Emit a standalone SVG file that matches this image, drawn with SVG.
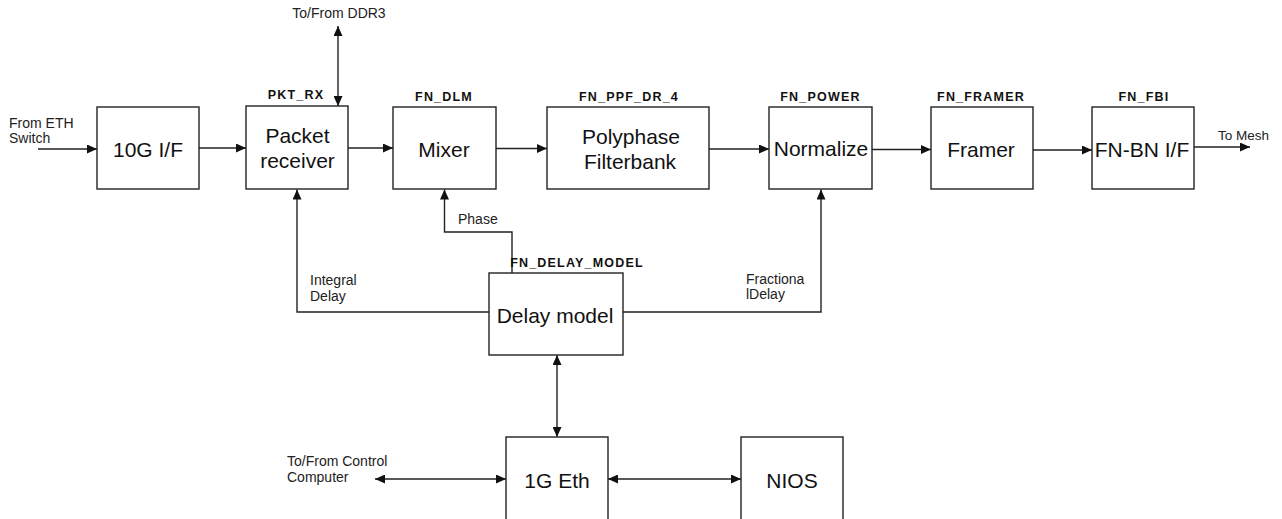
<svg xmlns="http://www.w3.org/2000/svg" width="1282" height="519" viewBox="0 0 1282 519">
<style>
.box{fill:#fff;stroke:#222;stroke-width:1.4}
.bt{font-family:"Liberation Sans",Arial,sans-serif;font-size:21px;fill:#111;text-anchor:middle}
.nm{font-family:"Liberation Sans",Arial,sans-serif;font-size:12.5px;font-weight:bold;letter-spacing:1.2px;fill:#111;text-anchor:middle}
.lb{font-family:"Liberation Sans",Arial,sans-serif;font-size:14px;fill:#222}
.ln{fill:none;stroke:#222;stroke-width:1.4}
</style>
<defs>
<marker id="ah" viewBox="0 0 10 9" refX="10" refY="4.5" markerWidth="10" markerHeight="9" markerUnits="userSpaceOnUse" orient="auto-start-reverse">
<path d="M0,0 L10,4.5 L0,9 Z" fill="#111"/>
</marker>
</defs>
<rect width="1282" height="519" fill="#fff"/>
<g id="connectors">
<line class="ln" x1="38" y1="149" x2="97" y2="149" marker-end="url(#ah)"/>
<line class="ln" x1="199" y1="148" x2="246" y2="148" marker-end="url(#ah)"/>
<line class="ln" x1="348" y1="148" x2="393" y2="148" marker-end="url(#ah)"/>
<line class="ln" x1="496" y1="148.5" x2="547" y2="148.5" marker-end="url(#ah)"/>
<line class="ln" x1="709" y1="149" x2="769" y2="149" marker-end="url(#ah)"/>
<line class="ln" x1="872" y1="149.5" x2="931" y2="149.5" marker-end="url(#ah)"/>
<line class="ln" x1="1033" y1="150" x2="1092" y2="150" marker-end="url(#ah)"/>
<line class="ln" x1="1194" y1="147" x2="1250" y2="147" marker-end="url(#ah)"/>
<line class="ln" x1="338" y1="26" x2="338" y2="106" marker-start="url(#ah)" marker-end="url(#ah)"/>
<path class="ln" d="M489,312 H297 V189.5" marker-end="url(#ah)"/>
<path class="ln" d="M512,273 V232 H444.5 V189.5" marker-end="url(#ah)"/>
<path class="ln" d="M623,312 H821 V189.5" marker-end="url(#ah)"/>
<line class="ln" x1="557" y1="355" x2="557" y2="437" marker-start="url(#ah)" marker-end="url(#ah)"/>
<line class="ln" x1="375" y1="479" x2="506" y2="479" marker-start="url(#ah)" marker-end="url(#ah)"/>
<line class="ln" x1="608" y1="479" x2="741" y2="479" marker-start="url(#ah)" marker-end="url(#ah)"/>
<text class="lb" x="9" y="128">From ETH</text>
<text class="lb" x="9" y="143">Switch</text>
<text class="lb" x="339" y="18" text-anchor="middle">To/From DDR3</text>
<text class="lb" x="1218" y="140" style="font-size:13.5px">To Mesh</text>
<text class="lb" x="458" y="224">Phase</text>
<text class="lb" x="310" y="285">Integral</text>
<text class="lb" x="310" y="301">Delay</text>
<text class="lb" x="746" y="284">Fractiona</text>
<text class="lb" x="746" y="299">lDelay</text>
<text class="lb" x="287" y="466">To/From Control</text>
<text class="lb" x="287" y="482">Computer</text>
</g>
<g id="n10g">
<rect class="box" x="97" y="107" width="102" height="82"/>
<text class="bt" x="148" y="157">10G I/F</text>
</g>
<g id="pktrx">
<rect class="box" x="246" y="106" width="102" height="83"/>
<text class="nm" x="296" y="99">PKT_RX</text>
<text class="bt" x="297.5" y="143">Packet</text>
<text class="bt" x="297.5" y="168">receiver</text>
</g>
<g id="fndlm">
<rect class="box" x="393" y="107" width="103" height="82"/>
<text class="nm" x="444" y="101">FN_DLM</text>
<text class="bt" x="444" y="157">Mixer</text>
</g>
<g id="fnppf">
<rect class="box" x="547" y="107" width="162" height="82"/>
<text class="nm" x="629" y="101">FN_PPF_DR_4</text>
<text class="bt" x="631" y="144">Polyphase</text>
<text class="bt" x="630" y="169">Filterbank</text>
</g>
<g id="fnpower">
<rect class="box" x="769" y="107" width="103" height="82"/>
<text class="nm" x="820.5" y="101">FN_POWER</text>
<text class="bt" x="821" y="156">Normalize</text>
</g>
<g id="fnframer">
<rect class="box" x="931" y="107" width="102" height="82"/>
<text class="nm" x="981" y="101">FN_FRAMER</text>
<text class="bt" x="981" y="157">Framer</text>
</g>
<g id="fnfbi">
<rect class="box" x="1092" y="107" width="102" height="82"/>
<text class="nm" x="1144" y="101">FN_FBI</text>
<text class="bt" x="1142" y="157">FN-BN I/F</text>
</g>
<g id="fndelay">
<rect class="box" x="489" y="273" width="134" height="82"/>
<text class="nm" x="577" y="267">FN_DELAY_MODEL</text>
<text class="bt" x="555" y="323">Delay model</text>
</g>
<g id="eth1g">
<rect class="box" x="506" y="437" width="102" height="100"/>
<text class="bt" x="557" y="488">1G Eth</text>
</g>
<g id="nios">
<rect class="box" x="741" y="437" width="102" height="100"/>
<text class="bt" x="792" y="488">NIOS</text>
</g>
</svg>
